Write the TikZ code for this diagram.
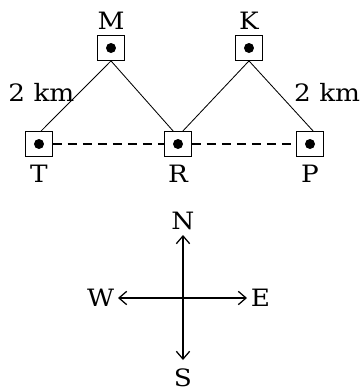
\documentclass[tikz,border=0pt]{standalone}
\usepackage{fontspec}
\setmainfont{DejaVu Serif}[FakeStretch=1.1]
\usepackage{tikz}
\usetikzlibrary{positioning}
\usetikzlibrary{arrows.meta}

\tikzset{
    site/.style={draw, line width=0.7pt, minimum width=0.66cm, minimum height=0.62cm, inner sep=0pt,
        path picture={\fill (path picture bounding box.center) circle (0.125cm);}},
    road/.style={line width=0.6pt},
    track/.style={line width=0.8pt, dash pattern=on 6.4pt off 4.3pt},
    compass/.style={line width=0.9pt, {Straight Barb[length=5.5pt, width=9.5pt]}-{Straight Barb[length=5.5pt, width=9.5pt]}},
}

\begin{document}
\begin{tikzpicture}[on grid, font=\fontsize{17}{20}\selectfont]
    \useasboundingbox (-0.975,-6.175) rectangle (8.125,3.6);

    \node [site, label={[label distance=2pt]below:T}] (T) at (0,0) {};
    \node [site, right=3.475cm of T, label={[label distance=2pt]below:R}] (R) {};
    \node [site, right=3.3cm of R, label={[label distance=2pt]below:P}] (P) {};

    \node [site, above right=2.4cm and 1.8cm of T, label={[label distance=0.5pt]above:M}] (M) {};
    \node [site, above right=2.4cm and 1.775cm of R, label={[label distance=0.5pt]above:K}] (K) {};

    \draw [road] (M.south) -- node [pos=0.45, left=0pt] {2 km} ([xshift=0.5mm]T.north);
    \draw [road] (M.south) -- ([xshift=-1.2mm]R.north);
    \draw [road] ([xshift=1.2mm]R.north) -- (K.south);
    \draw [road] (K.south) -- node [pos=0.45, right=8pt] {2 km} ([xshift=0.8mm]P.north);

    \draw [track] (T.east) -- (R.west);
    \draw [track] (R.east) -- (P.west);

    % directions
    \coordinate [below right=3.85cm and 0.125cm of R] (C);
    \coordinate [above=1.575cm of C] (n);
    \coordinate [below=1.55cm of C] (s);
    \coordinate [left=1.625cm of C] (w);
    \coordinate [right=1.6cm of C] (e);

    \draw [compass] (s) node [below=2.5pt] {S} -- (n) node [above=0pt] {N};
    \draw [compass] (w) node [left=-1pt] {W} -- (e) node [right=-1pt] {E};

\end{tikzpicture}
\end{document}
